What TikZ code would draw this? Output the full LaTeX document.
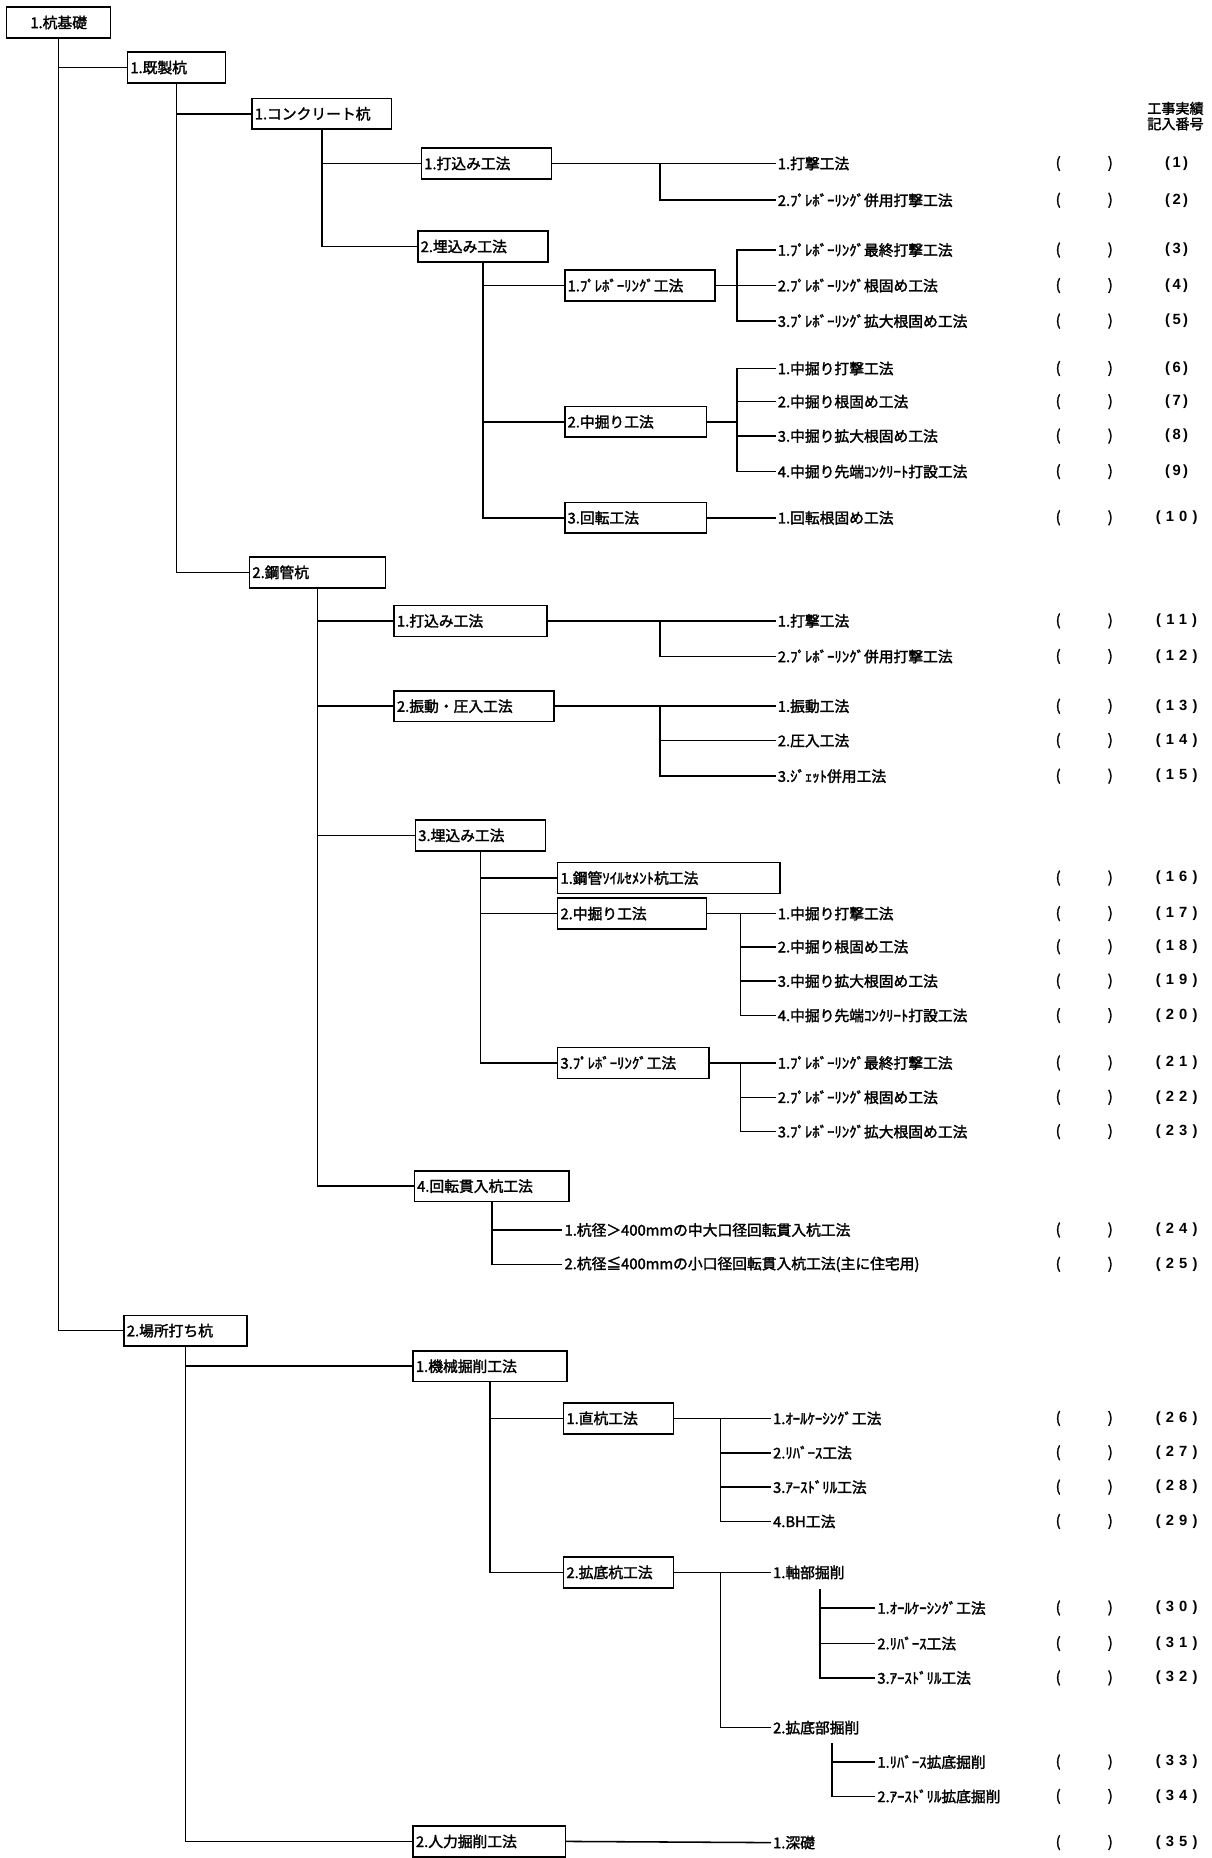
\documentclass[tikz,border=0pt]{standalone}
\usepackage{fontspec}
\setmainfont{Noto Sans CJK JP}[FakeBold=2]
\newfontfamily\numfont{Liberation Sans}[LetterSpace=35]
\newcommand\pxu{0.0296cm}

\begin{document}
\begin{tikzpicture}[x=\pxu, y=-\pxu, line width=1.1pt, line cap=rect, line join=miter,
    every node/.style={font=\fontsize{10.5}{12}\selectfont, inner sep=1.5pt},
    box/.style={draw, anchor=west, align=left, minimum height=26*\pxu, inner sep=2pt},
    leaf/.style={anchor=west},
    num/.style={font=\numfont\bfseries\fontsize{10.5}{12}\selectfont}]
    \useasboundingbox (0,0) rectangle (1022,1568);
    \draw(5,19) node[box, text width=83*\pxu, align=center] (n0) {1.杭基礎};
    \draw(107,57) node[box, text width=78*\pxu] (n1) {1.既製杭};
    \draw(212,96) node[box, text width=113*\pxu] (n2) {1.コンクリート杭};
    \draw(355,138) node[box, text width=105*\pxu] (n3) {1.打込み工法};
    \draw(352,208) node[box, text width=105*\pxu] (n4) {2.埋込み工法};
    \draw(476,241) node[box, text width=122*\pxu] (n5) {1.ﾌﾟﾚﾎﾞｰﾘﾝｸﾞ工法};
    \draw(476,356) node[box, text width=115*\pxu] (n6) {2.中掘り工法};
    \draw(476,437) node[box, text width=115*\pxu] (n7) {3.回転工法};
    \draw(210,483) node[box, text width=110*\pxu] (n8) {2.鋼管杭};
    \draw(332,524) node[box, text width=124*\pxu] (n9) {1.打込み工法};
    \draw(332,596) node[box, text width=130*\pxu] (n10) {2.振動・圧入工法};
    \draw(350,705) node[box, text width=105*\pxu] (n11) {3.埋込み工法};
    \draw(470,741) node[box, text width=183*\pxu, alias=l16] (n12) {1.鋼管ｿｲﾙｾﾒﾝﾄ杭工法};
    \draw(470,771) node[box, text width=121*\pxu] (n13) {2.中掘り工法};
    \draw(470,897) node[box, text width=123*\pxu] (n14) {3.ﾌﾟﾚﾎﾞｰﾘﾝｸﾞ工法};
    \draw(349,1001) node[box, text width=126*\pxu] (n15) {4.回転貫入杭工法};
    \draw(104,1123) node[box, text width=99*\pxu] (n16) {2.場所打ち杭};
    \draw(348,1153) node[box, text width=125*\pxu] (n17) {1.機械掘削工法};
    \draw(475,1197) node[box, text width=88*\pxu] (n18) {1.直杭工法};
    \draw(475,1327) node[box, text width=88*\pxu] (n19) {2.拡底杭工法};
    \draw(348,1554) node[box, text width=124*\pxu] (n20) {2.人力掘削工法};

    \draw(654,138) node[leaf] (l1) {1.打撃工法};
    \draw(654,169) node[leaf] (l2) {2.ﾌﾟﾚﾎﾞｰﾘﾝｸﾞ併用打撃工法};
    \draw(654,211) node[leaf] (l3) {1.ﾌﾟﾚﾎﾞｰﾘﾝｸﾞ最終打撃工法};
    \draw(654,241) node[leaf] (l4) {2.ﾌﾟﾚﾎﾞｰﾘﾝｸﾞ根固め工法};
    \draw(654,271) node[leaf] (l5) {3.ﾌﾟﾚﾎﾞｰﾘﾝｸﾞ拡大根固め工法};
    \draw(654,311) node[leaf] (l6) {1.中掘り打撃工法};
    \draw(654,339) node[leaf] (l7) {2.中掘り根固め工法};
    \draw(654,368) node[leaf] (l8) {3.中掘り拡大根固め工法};
    \draw(654,398) node[leaf] (l9) {4.中掘り先端ｺﾝｸﾘｰﾄ打設工法};
    \draw(654,437) node[leaf] (l10) {1.回転根固め工法};
    \draw(654,524) node[leaf] (l11) {1.打撃工法};
    \draw(654,554) node[leaf] (l12) {2.ﾌﾟﾚﾎﾞｰﾘﾝｸﾞ併用打撃工法};
    \draw(654,596) node[leaf] (l13) {1.振動工法};
    \draw(654,625) node[leaf] (l14) {2.圧入工法};
    \draw(654,655) node[leaf] (l15) {3.ｼﾞｪｯﾄ併用工法};
    \draw(654,771) node[leaf] (l17) {1.中掘り打撃工法};
    \draw(654,799) node[leaf] (l18) {2.中掘り根固め工法};
    \draw(654,828) node[leaf] (l19) {3.中掘り拡大根固め工法};
    \draw(654,857) node[leaf] (l20) {4.中掘り先端ｺﾝｸﾘｰﾄ打設工法};
    \draw(654,897) node[leaf] (l21) {1.ﾌﾟﾚﾎﾞｰﾘﾝｸﾞ最終打撃工法};
    \draw(654,926) node[leaf] (l22) {2.ﾌﾟﾚﾎﾞｰﾘﾝｸﾞ根固め工法};
    \draw(654,955) node[leaf] (l23) {3.ﾌﾟﾚﾎﾞｰﾘﾝｸﾞ拡大根固め工法};
    \draw(474,1038) node[leaf] (l24) {1.杭径＞400mmの中大口径回転貫入杭工法};
    \draw(474,1067) node[leaf] (l25) {2.杭径≦400mmの小口径回転貫入杭工法(主に住宅用)};
    \draw(650,1197) node[leaf] (l26) {1.ｵｰﾙｹｰｼﾝｸﾞ工法};
    \draw(650,1226) node[leaf] (l27) {2.ﾘﾊﾞｰｽ工法};
    \draw(650,1255) node[leaf] (l28) {3.ｱｰｽﾄﾞﾘﾙ工法};
    \draw(650,1284) node[leaf] (l29) {4.BH工法};
    \draw(650,1327) node[leaf] (m1) {1.軸部掘削};
    \draw(738,1357) node[leaf] (l30) {1.ｵｰﾙｹｰｼﾝｸﾞ工法};
    \draw(738,1387) node[leaf] (l31) {2.ﾘﾊﾞｰｽ工法};
    \draw(738,1416) node[leaf] (l32) {3.ｱｰｽﾄﾞﾘﾙ工法};
    \draw(650,1458) node[leaf] (m2) {2.拡底部掘削};
    \draw(738,1487) node[leaf] (l33) {1.ﾘﾊﾞｰｽ拡底掘削};
    \draw(738,1516) node[leaf] (l34) {2.ｱｰｽﾄﾞﾘﾙ拡底掘削};
    \draw(650,1555) node[leaf] (l35) {1.深礎};

    \draw(992,98) node[align=center, font=\fontsize{10}{11}\selectfont] (h0) {工事実績\\記入番号};
    \coordinate (pl) at (893,1);
    \coordinate (pr) at (937,1);
    \coordinate (pn) at (993,1);
    \foreach \k in {1,...,35} {
        \node (a\k) at (l\k.west -| pl) {(};
        \node (b\k) at (l\k.west -| pr) {)};
        \node[num] (c\k) at (l\k.west -| pn) {\ifnum\k<10 (\,\k\,)\else(\k)\fi};
    }

    \coordinate (j1) at (557,138);
    \coordinate (j2) at (622,241);
    \coordinate (j3) at (622,356);
    \coordinate (j4) at (557,524);
    \coordinate (j5) at (557,596);
    \coordinate (j6) at (625,771);
    \coordinate (j7) at (625,897);
    \coordinate (j8) at (608,1197);
    \coordinate (j9) at (608,1327);
    \coordinate (k1) at (692,1342);
    \coordinate (k2) at (702,1472);

    \draw (n0.south) |- (n1.west);
    \draw (n0.south) |- (n16.west);
    \draw (n1.south) |- (n2.west);
    \draw (n1.south) |- (n8.west);
    \draw (n2.south) |- (n3.west);
    \draw (n2.south) |- (n4.west);
    \draw (n3.east) -- (l1.west);
    \draw (j1) |- (l2.west);
    \draw (n4.south) |- (n5.west);
    \draw (n4.south) |- (n6.west);
    \draw (n4.south) |- (n7.west);
    \draw (n5.east) -- (l4.west);
    \draw (j2) |- (l3.west);
    \draw (j2) |- (l5.west);
    \draw (n6.east) -- (j3);
    \foreach \k in {6,...,9} \draw (j3) |- (l\k.west);
    \draw (n7.east) -- (l10.west);

    \draw (n8.south) |- (n9.west);
    \draw (n8.south) |- (n10.west);
    \draw (n8.south) |- (n11.west);
    \draw (n8.south) |- (n15.west);
    \draw (n9.east) -- (l11.west);
    \draw (j4) |- (l12.west);
    \draw (n10.east) -- (l13.west);
    \draw (j5) |- (l14.west);
    \draw (j5) |- (l15.west);
    \draw (n11.south) |- (n12.west);
    \draw (n11.south) |- (n13.west);
    \draw (n11.south) |- (n14.west);
    \draw (n13.east) -- (l17.west);
    \foreach \k in {18,19,20} \draw (j6) |- (l\k.west);
    \draw (n14.east) -- (l21.west);
    \draw (j7) |- (l22.west);
    \draw (j7) |- (l23.west);
    \draw (n15.south) |- (l24.west);
    \draw (n15.south) |- (l25.west);

    \draw (n16.south) |- (n17.west);
    \draw (n16.south) |- (n20.west);
    \draw (n17.south) |- (n18.west);
    \draw (n17.south) |- (n19.west);
    \draw (n18.east) -- (l26.west);
    \foreach \k in {27,28,29} \draw (j8) |- (l\k.west);
    \draw (n19.east) -- (m1.west);
    \draw (j9) |- (m2.west);
    \foreach \k in {30,31,32} \draw (k1) |- (l\k.west);
    \draw (k2) |- (l33.west);
    \draw (k2) |- (l34.west);
    \draw (n20.east) -- (l35.west);
\end{tikzpicture}
\end{document}
